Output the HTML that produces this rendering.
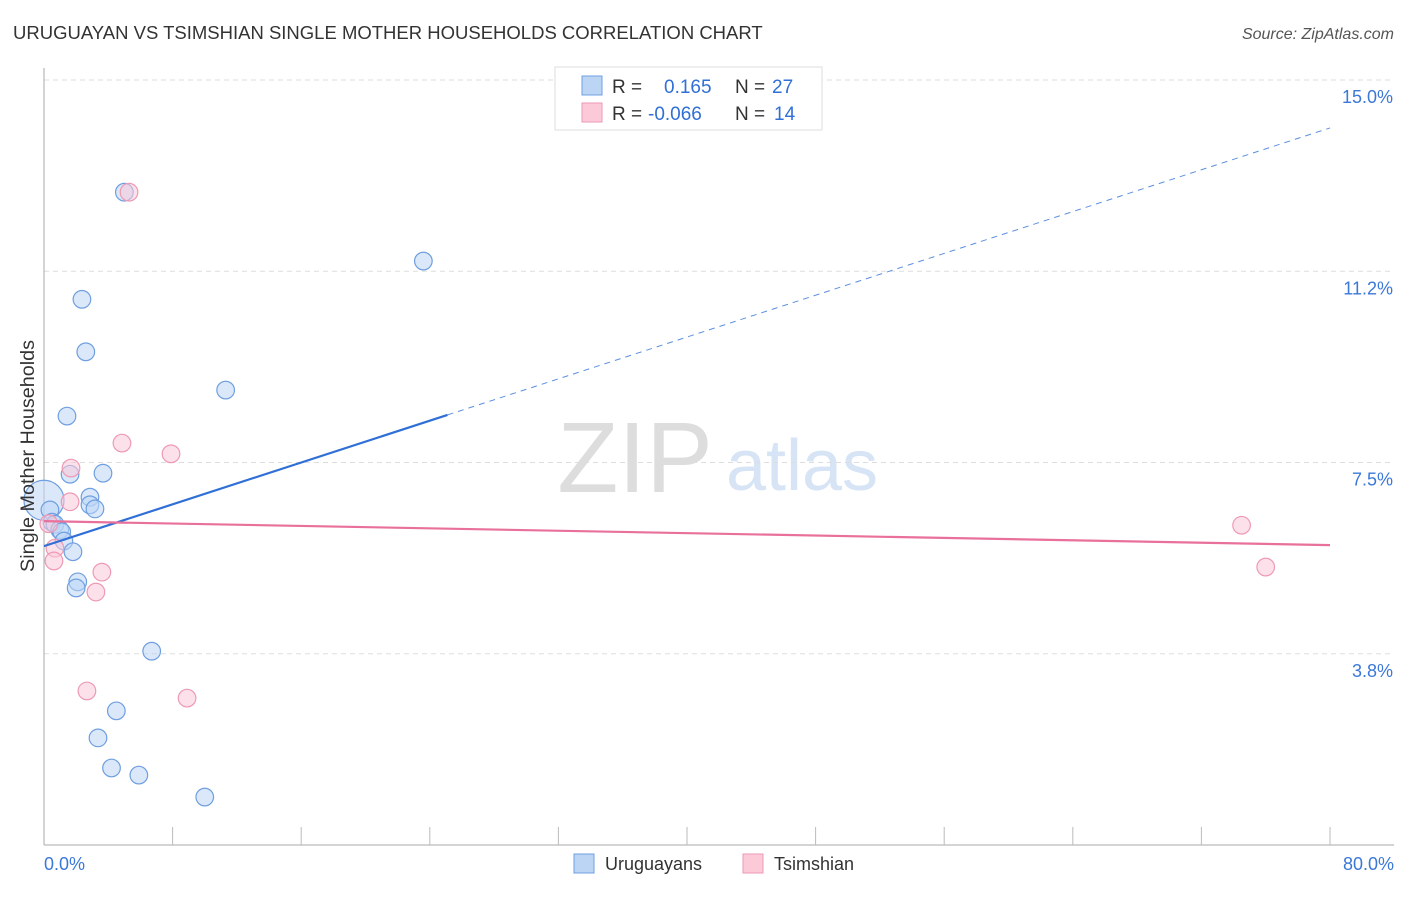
<!DOCTYPE html>
<html><head><meta charset="utf-8"><style>
body{margin:0;background:#fff;font-family:"Liberation Sans",sans-serif;}
svg text{font-family:"Liberation Sans",sans-serif;}
</style></head><body>
<svg width="1406" height="892">
<text x="13" y="39" font-size="18.5" fill="#333">URUGUAYAN VS TSIMSHIAN SINGLE MOTHER HOUSEHOLDS CORRELATION CHART</text>
<text x="1394" y="39" font-size="16" fill="#555" text-anchor="end" font-style="italic">Source: ZipAtlas.com</text>
<text x="635" y="492" font-size="100" fill="#ddd" font-family="Liberation Serif" text-anchor="middle">ZIP</text>
<text x="802" y="490" font-size="72" fill="#d6e4f5" text-anchor="middle">atlas</text>
<g id="grid"></g>
<g id="axes"></g>
<g id="marks"></g>
<text transform="translate(34,456) rotate(-90)" font-size="19.8" fill="#333" text-anchor="middle">Single Mother Households</text>
<g>
<rect x="555" y="67" width="267" height="63" fill="#fff" stroke="#ddd"/>
<rect x="582" y="76" width="20" height="19" fill="#bcd5f5" stroke="#6f9fe0"/>
<rect x="582" y="103" width="20" height="19" fill="#fbc9d8" stroke="#ee9ab4"/>
<text x="612" y="93" font-size="19" fill="#333">R = <tspan fill="#2f6fd6" x="664">0.165</tspan><tspan x="735" fill="#333">N = </tspan><tspan fill="#2f6fd6" x="772">27</tspan></text>
<text x="612" y="120" font-size="19" fill="#333">R = <tspan fill="#2f6fd6" x="648">-0.066</tspan><tspan x="735" fill="#333">N = </tspan><tspan fill="#2f6fd6" x="774">14</tspan></text>
</g>
<g>
<rect x="574" y="854" width="20" height="19" fill="#bcd5f5" stroke="#6f9fe0"/>
<text x="605" y="870" font-size="18" fill="#333">Uruguayans</text>
<rect x="743" y="854" width="20" height="19" fill="#fbc9d8" stroke="#ee9ab4"/>
<text x="774" y="870" font-size="18" fill="#333">Tsimshian</text>
</g>
</svg>
<script>
const yTicks=[3.75,7.5,11.25,15];
const yTickLabels=["3.8%","7.5%","11.2%","15.0%"];
const xEndLabels=["0.0%","80.0%"];
const uruX=[5.0,23.6,2.36,2.6,11.3,1.43,1.62,3.67,2.86,2.86,3.17,0,0.37,0.5,0.68,0.98,1.1,1.24,1.8,2.1,2.0,6.7,4.5,3.36,4.2,5.9,10.0];
const uruY=[12.8,11.45,10.7,9.67,8.92,8.41,7.27,7.29,6.82,6.67,6.59,6.76,6.57,6.33,6.29,6.18,6.14,5.96,5.75,5.16,5.04,3.8,2.63,2.1,1.51,1.37,0.94];
const tsiX=[5.29,4.85,7.9,1.68,1.62,0.3,0.68,3.6,3.23,0.62,2.67,8.9,74.5,76.0];
const tsiY=[12.8,7.88,7.67,7.39,6.73,6.3,5.82,5.35,4.96,5.57,3.02,2.88,6.27,5.45];
const uruTrend=[5.86,14.06];
const tsiTrend=[6.35,5.88];
const uruSolidEnd=25.1;
const NS="http://www.w3.org/2000/svg";
const X=v=>44+v/80*1286, Y=v=>845-v/15*765;
function mk(tag,attrs,parent){const e=document.createElementNS(NS,tag);for(const k in attrs)e.setAttribute(k,attrs[k]);document.getElementById(parent).appendChild(e);return e;}
yTicks.forEach((t,i)=>{
 const g=mk('line',{x1:44,x2:1394,y1:Y(t),y2:Y(t),stroke:'#ddd','stroke-dasharray':'5,4'},'grid');
 
 
 const l=mk('text',{x:1393,y:Y(t)+23,'font-size':18,fill:'#3b78d8','text-anchor':'end'},'axes');
 l.textContent=yTickLabels[i];
 
 
});
const ya=mk('line',{x1:44,x2:44,y1:68,y2:845,stroke:'#aaa'},'axes');


const xa=mk('line',{x1:44,x2:1394,y1:845,y2:845,stroke:'#aaa'},'axes');


for(let i=1;i<=10;i++){
 const t=mk('line',{x1:X(i*8),x2:X(i*8),y1:827,y2:845,stroke:'#bbb'},'axes');
 
 
}
[[0,'start',44],[80,'end',1394]].forEach((d,i)=>{
 const l=mk('text',{x:d[2],y:870,'font-size':18,fill:'#3b78d8','text-anchor':d[1]},'axes');
 l.textContent=xEndLabels[i];
 
 
});
function dot(x,y,r,fill,stroke,name){
 const c=mk('circle',{cx:X(x),cy:Y(y),r:r,fill:fill,'fill-opacity':0.55,stroke:stroke,'stroke-width':1.2},'marks');
 
 
}
uruX.forEach((x,i)=>dot(x,uruY[i],i===11?20:8.8,'#bcd5f5','#6f9fe0','uruguayans-point'));
tsiX.forEach((x,i)=>dot(x,tsiY[i],8.8,'#fbc9d8','#ee9ab4','tsimshian-point'));
const at=(a,x)=>a[0]+(a[1]-a[0])*x/80;
const l1=mk('line',{x1:X(0),y1:Y(uruTrend[0]),x2:X(uruSolidEnd),y2:Y(at(uruTrend,uruSolidEnd)),stroke:'#2f6fd6','stroke-width':2.2},'marks');


const l2=mk('line',{x1:X(uruSolidEnd),y1:Y(at(uruTrend,uruSolidEnd)),x2:X(80),y2:Y(uruTrend[1]),stroke:'#5b8fe0','stroke-width':1,'stroke-dasharray':'6,5'},'marks');


const l3=mk('line',{x1:X(0),y1:Y(tsiTrend[0]),x2:X(80),y2:Y(tsiTrend[1]),stroke:'#e8709a','stroke-width':2.2},'marks');


</script>
</body></html>
